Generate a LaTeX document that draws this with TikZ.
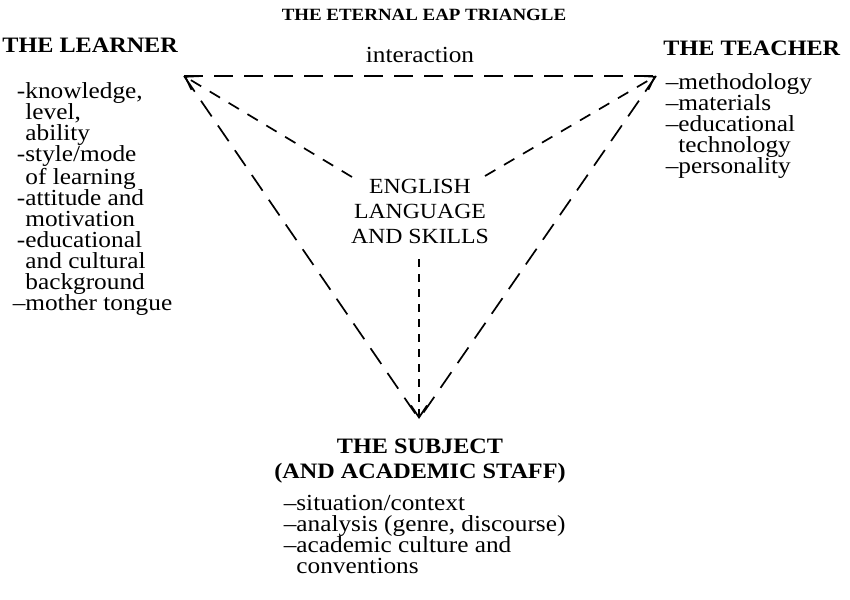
\documentclass[tikz,border=0pt]{standalone}
\usepackage{fontspec}
\setmainfont{Liberation Serif}[FakeStretch=1.1]
\usetikzlibrary{arrows.meta}
\newcommand\dashitem[1]{\llap{#1}}
\begin{document}
\begin{tikzpicture}[x=0.5pt,y=-0.5pt,
  rim/.style={line width=0.85pt, dash pattern=on 9.5pt off 5.5pt},
  spoke/.style={line width=0.85pt, dash pattern=on 6pt off 5pt,
    -{Straight Barb[length=6pt,width=8pt,line width=0.85pt]}},
  titletxt/.style={font=\fontsize{8.6}{10}\selectfont\bfseries, inner sep=0pt},
  headtxt/.style={font=\fontsize{11}{12.5}\selectfont\bfseries, inner sep=0pt, align=center},
  coretxt/.style={font=\fontsize{10.8}{12.5}\selectfont, inner sep=0pt, align=center},
  listtxt/.style={font=\fontsize{11.5}{10.5}\selectfont, align=left, inner sep=0pt, anchor=north west},
  plaintxt/.style={font=\fontsize{11.5}{12}\selectfont, inner sep=0pt},
]
\useasboundingbox (0,0) rectangle (850,599);

% title
\node[titletxt] (title) at (424,15) {THE ETERNAL EAP TRIANGLE};

% the three corners of the triangle
\coordinate (L) at (184,76);
\coordinate (T) at (656,76);
\coordinate (S) at (419,419);

% corner labels
\node[headtxt, anchor=west] (learner) at (2,45) {THE LEARNER};
\node[headtxt, anchor=west] (teacher) at (663,48) {THE TEACHER};
\node[headtxt] (subject) at (420,461) {THE SUBJECT\\(AND ACADEMIC STAFF)};

\node[listtxt] (learnerlist) at (25,82) {%
\dashitem{-}knowledge,\\
level,\\
ability\\
\dashitem{-}style/mode\\
of learning\\
\dashitem{-}attitude and\\
motivation\\
\dashitem{-}educational\\
and cultural\\
background\\
\dashitem{--}mother tongue};

\node[listtxt] (teacherlist) at (678,73) {%
\dashitem{--}methodology\\
\dashitem{--}materials\\
\dashitem{--}educational\\
technology\\
\dashitem{--}personality};

\node[listtxt] (subjectlist) at (296,495) {%
\dashitem{--}situation/context\\
\dashitem{--}analysis (genre, discourse)\\
\dashitem{--}academic culture and\\
conventions};

% centre of the triangle
\node[coretxt] (core) at (420,211) {ENGLISH\\LANGUAGE\\AND SKILLS};
\node[plaintxt] (interaction) at (420,55) {interaction};

% outer edges
\draw[rim] (L) -- (T);
\draw[rim] (L) -- (S);
\draw[rim] (T) -- (S);

% spokes from the centre to each corner
\coordinate (cL) at (352,177);
\coordinate (cT) at (485,176);
\coordinate (cS) at (419,259);
\draw[spoke] (cL) -- (L);
\draw[spoke] (cT) -- (T);
\draw[spoke, dash pattern=on 4pt off 3.5pt] (cS) -- (S);
\end{tikzpicture}
\end{document}
